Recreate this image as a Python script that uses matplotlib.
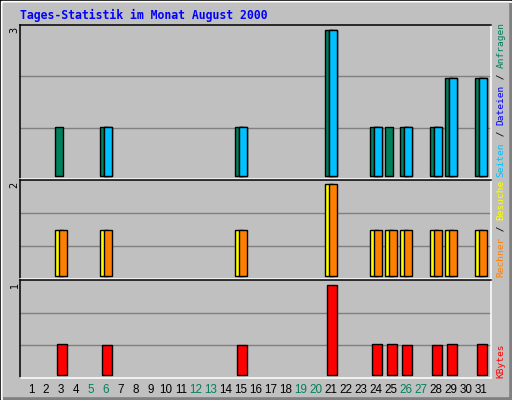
import numpy as np
import matplotlib
matplotlib.use("Agg")
import matplotlib.pyplot as plt
from matplotlib.patches import Rectangle

# Tages-Statistik August 2000 (Webalizer-Stil)
days = list(range(1, 32))
weekend = [5, 6, 12, 13, 19, 20, 26, 27]

anfragen = [0, 0, 1, 0, 0, 1, 0, 0, 0, 0, 0, 0, 0, 0, 1, 0, 0, 0, 0, 0, 3, 0, 0, 1, 1, 1, 0, 1, 2, 0, 2]
dateien  = [0, 0, 0, 0, 0, 1, 0, 0, 0, 0, 0, 0, 0, 0, 1, 0, 0, 0, 0, 0, 3, 0, 0, 1, 0, 1, 0, 1, 2, 0, 2]
seiten   = [0, 0, 0, 0, 0, 1, 0, 0, 0, 0, 0, 0, 0, 0, 1, 0, 0, 0, 0, 0, 3, 0, 0, 1, 0, 1, 0, 1, 2, 0, 2]
besuche  = [0, 0, 1, 0, 0, 1, 0, 0, 0, 0, 0, 0, 0, 0, 1, 0, 0, 0, 0, 0, 2, 0, 0, 1, 1, 1, 0, 1, 1, 0, 1]
rechner  = [0, 0, 1, 0, 0, 1, 0, 0, 0, 0, 0, 0, 0, 0, 1, 0, 0, 0, 0, 0, 2, 0, 0, 1, 1, 1, 0, 1, 1, 0, 1]
kbytes   = [0, 0, 0.34, 0, 0, 0.33, 0, 0, 0, 0, 0, 0, 0, 0, 0.33, 0, 0, 0, 0, 0, 1.0, 0, 0,
            0.34, 0.34, 0.33, 0, 0.33, 0.34, 0, 0.34]

panel_max = [3, 2, 1]

GREEN = "#00805C"
BLUE = "#0000FF"
CYAN = "#00C0FF"
YELLOW = "#FFFF00"
ORANGE = "#FF8000"
RED = "#FF0000"
BG = "#C0C0C0"

W, H = 512, 400
fig = plt.figure(figsize=(W / 100, H / 100), dpi=100)
fig.patch.set_facecolor(BG)


def px_rect(x0, y0, x1, y1):
    return [x0 / W, 1 - y1 / H, (x1 - x0) / W, (y1 - y0) / H]


# Rahmen
frame = fig.add_axes([0, 0, 1, 1], zorder=-5)
frame.set_xlim(0, W)
frame.set_ylim(H, 0)
frame.axis("off")
frame.add_patch(Rectangle((0, 0), W, H, color="black"))
frame.add_patch(Rectangle((1, 1), W - 2, H - 2, color="white"))
frame.add_patch(Rectangle((3, 3), W - 4, H - 4, color="#808080"))
frame.add_patch(Rectangle((3, 3), W - 7, H - 7, color=BG))

boxes = [(20, 25, 491, 179), (20, 180, 491, 279), (20, 280, 491, 378)]
axes = []
for (x0, y0, x1, y1), vmax in zip(boxes, panel_max):
    ax = fig.add_axes(px_rect(x0, y0, x1, y1))
    ax.set_facecolor(BG)
    h = y1 - y0
    u = vmax / (h - 7.5)
    ax.set_ylim(-3 * u, vmax + 4.5 * u)
    ax.set_xlim(4 / 15, 475 / 15)
    for f in (1 / 3, 2 / 3):
        ax.plot([0, 1], [f, f], transform=ax.transAxes, color="#808080", lw=1.0, zorder=1)
    ax.spines["top"].set_color("black")
    ax.spines["left"].set_color("black")
    ax.spines["bottom"].set_color("white")
    ax.spines["right"].set_color("white")
    for s in ax.spines.values():
        s.set_linewidth(1.1)
    ax.set_yticks([])
    ax.tick_params(length=0)
    ax.set_xticks([])
    fig.text(14.5 / W, 1 - (y0 + 2) / H, str(vmax), rotation=90, ha="center", va="top",
             fontsize=7, color="black")
    axes.append(ax)

d = np.array(days)


def bars(ax, vals, offset, width, color):
    v = np.array(vals, dtype=float)
    m = v > 0
    ax.bar(d[m] + offset, v[m], width=width, align="edge", color=color,
           edgecolor="black", linewidth=1.0, zorder=3)


ax1, ax2, ax3 = axes
bars(ax1, anfragen, -6 / 15, 8 / 15, GREEN)
bars(ax1, dateien, -2 / 15, 8 / 15, BLUE)
bars(ax1, seiten, -2 / 15, 8 / 15, CYAN)
bars(ax2, besuche, -6 / 15, 8 / 15, YELLOW)
bars(ax2, rechner, -2 / 15, 8 / 15, ORANGE)
bars(ax3, kbytes, -4.5 / 15, 10 / 15, RED)

ax3.set_xticks(days)
ax3.set_xticklabels([str(x) for x in days], fontsize=8.4, family="Liberation Sans")
ax3.tick_params(axis="x", length=0, pad=4)
for lab, x in zip(ax3.get_xticklabels(), days):
    lab.set_color(GREEN if x in weekend else "black")

# Titel
fig.text(20 / W, 1 - 19 / H, "Tages-Statistik im Monat August 2000", ha="left", va="baseline",
         family="DejaVu Sans Mono", weight="bold", fontsize=8.3, color=BLUE)

# Legende rechts (von unten nach oben)
legend_parts = [
    (378, [("KBytes", RED)]),
    (277, [("Rechner", ORANGE), (" / ", "black"), ("Besuche", YELLOW)]),
    (177, [("Seiten", CYAN), (" / ", "black"), ("Dateien", BLUE), (" / ", "black"), ("Anfragen", GREEN)]),
]
for ybot, parts in legend_parts:
    last = None
    for txt, col in parts:
        kw = dict(rotation=90, ha="center", va="bottom", family="DejaVu Sans Mono",
                  fontsize=6.8, color=col)
        if last is None:
            last = fig.text(501 / W, 1 - ybot / H, txt, **kw)
        else:
            last = ax1.annotate(txt, xy=(0.5, 1), xycoords=last, annotation_clip=False, **kw)

fig.savefig("out.png", dpi=100, facecolor=BG)
